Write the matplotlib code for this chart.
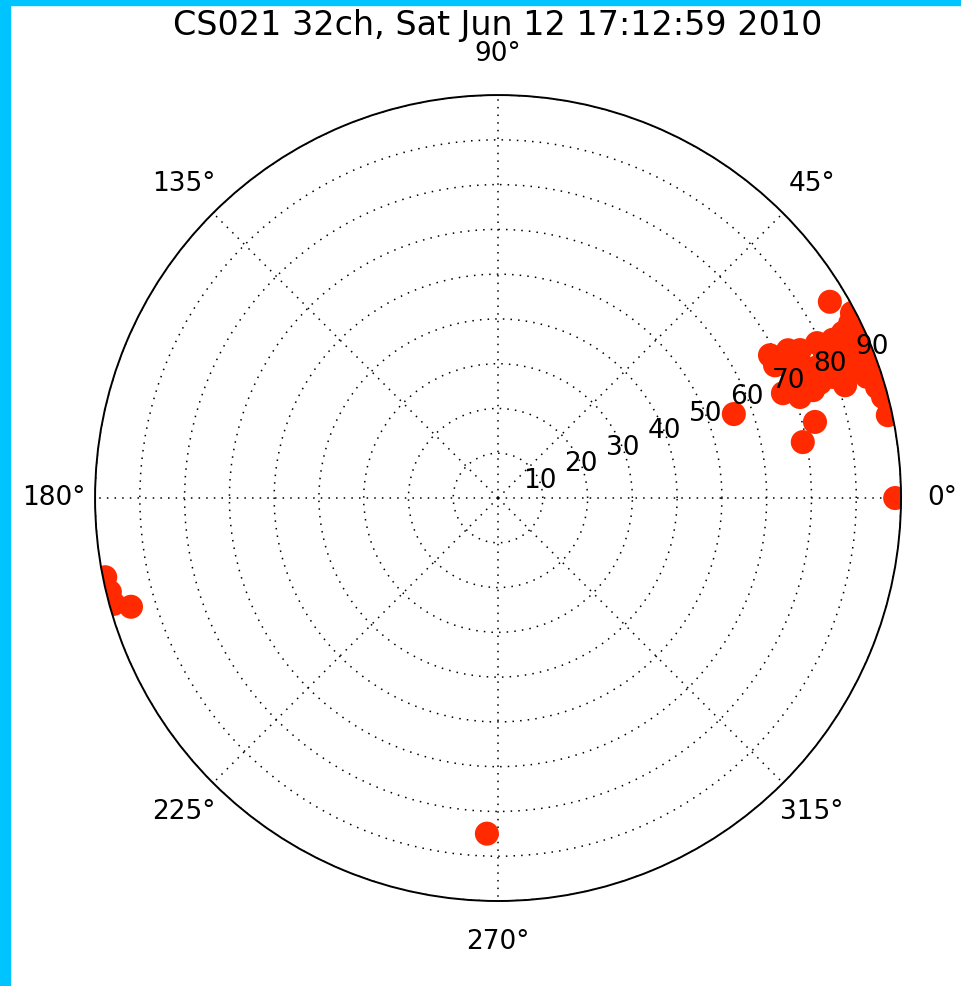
import matplotlib.pyplot as plt
from matplotlib.patches import Rectangle
import numpy as np

title = 'CS021 32ch, Sat Jun 12 17:12:59 2010'

# azimuth (deg) and radius of each source
theta_deg = [0.0, 12.0, 30.6, 27.6, 26.4, 25.6, 27.7, 26.3, 20.2, 18.5, 18.9,
             19.9, 20.0, 18.2, 16.3, 14.7, 26.1, 25.9, 25.3, 24.2, 21.7, 22.3,
             22.3, 24.1, 19.9, 22.1, 23.5, 19.6, 13.5, 10.4,
             24.5, 21.5, 23.6, 22.0, 22.5, 23.0, 19.9, 17.8, 18.0, 19.7,
             20.8, 25.6, 23.7, 25.0, 27.0,
             196.5, 191.4, 193.6, 195.4, 268.1]
radius = [88.7, 89.0, 86.1, 89.2, 87.8, 85.4, 68.6, 71.0, 67.8, 71.1, 74.4,
          79.5, 83.6, 86.7, 88.2, 88.9, 75.1, 79.2, 82.7, 86.2, 87.7, 77.0,
          71.2, 73.9, 90.0, 90.0, 90.0, 55.9, 72.8, 69.2,
          71.7, 74.9, 79.7, 82.4, 86.3, 90.0, 87.2, 89.6, 81.5, 76.4,
          71.0, 68.6, 82.2, 88.7, 72.7,
          85.5, 89.5, 89.2, 89.0, 75.0]
r_ticks = [10, 20, 30, 40, 50, 60, 70, 80, 90]

fig = plt.figure(figsize=(9.61, 9.86), dpi=100)
fig.patches.append(Rectangle((0, 0), 10 / 961, 1, transform=fig.transFigure,
                             color='#00c4ff', zorder=-1))
fig.patches.append(Rectangle((0, 1 - 5 / 986), 1, 5 / 986, transform=fig.transFigure,
                             color='#00c4ff', zorder=-1))

ax = fig.add_axes([0.0989, 0.0862, 0.8387, 0.8174], projection='polar')
ax.scatter(np.radians(theta_deg), radius, s=300, color='#ff2a00', edgecolors='none', zorder=2)

ax.set_ylim(0, 90)
ax.set_rticks(r_ticks)
ax.set_yticklabels([])
ax.set_thetagrids(np.arange(0, 360, 45))
ax.grid(True, color='black', linestyle=(0, (1, 4)), linewidth=1.1)
ax.tick_params(axis='x', labelsize=19, pad=19)
ax.spines['polar'].set_linewidth(1.4)

# radial labels centred on the 22.5 deg line, drawn over the markers
for r in r_ticks:
    ax.text(np.radians(22.0), r, str(r), ha='center', va='center', fontsize=19, zorder=5)

fig.text(498 / 961, 1 - 25 / 986, title, ha='center', va='center', fontsize=24)

fig.savefig('out.png', dpi=100)
